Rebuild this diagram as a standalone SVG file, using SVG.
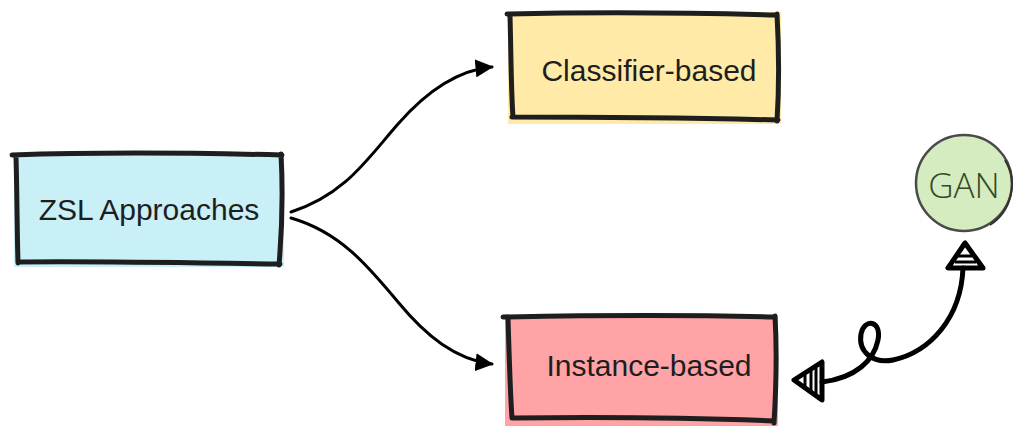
<svg xmlns="http://www.w3.org/2000/svg" width="1013" height="429" viewBox="0 0 1013 429">
<defs>
<style>
.box{stroke:none}
.edge{fill:none;stroke:#1e1e1e;stroke-width:5;stroke-linecap:round;stroke-linejoin:round}
.lbl{font-family:"Liberation Sans",Arial,sans-serif;font-size:30px;fill:#1e1e1e;text-anchor:middle;dominant-baseline:central}
.conn{fill:none;stroke:#000;stroke-width:3;stroke-linecap:round}
.thick{fill:none;stroke:#000;stroke-width:5;stroke-linecap:round;stroke-linejoin:round}
</style>
<marker id="ah" viewBox="0 0 12 12" refX="11" refY="6" markerWidth="6" markerHeight="6" orient="auto" markerUnits="strokeWidth">
<path d="M0,0 L12,6 L0,12 Z" fill="#000"/>
</marker>
</defs>
<rect width="1013" height="429" fill="#fff"/>

<g id="connectors">
<path class="conn" d="M291,212 C345,195 368,158 398,124 C426,92 458,70 492,67" marker-end="url(#ah)"/>
<path class="conn" d="M291,218 C340,232 368,266 398,302 C426,336 456,360 492,364" marker-end="url(#ah)"/>
<path class="thick" d="M963,268 C961,318 930,352 893,360 C873,364 858,352 861,334 C864,318 882,320 878,340 C874,360 856,378 822,382"/>
<polygon class="thick" points="965,243 948,268 983,268" fill="#fff"/>
<path d="M958,256 L972,256 M955,262 L976,262" stroke="#000" stroke-width="3"/>
<polygon class="thick" points="794,380 822,362 822,400" fill="#fff"/>
<path d="M805,375 L805,389 M811,371 L811,393 M816,368 L816,396" stroke="#000" stroke-width="3"/>
</g>

<g id="zsl">
<rect class="box" x="14" y="153" width="270" height="114" fill="#c9eff7"/>
<path class="edge" d="M12,155 C100,152 200,153 282,155 M281,154 C283,190 282,230 279,265 M280,264 C200,263 100,261 18,262 M16,157 C17,190 17,230 18,263"/>
<text class="lbl" x="149" y="209">ZSL Approaches</text>
</g>

<g id="classifier">
<rect class="box" x="508" y="12" width="273" height="112" fill="#ffeaa7"/>
<path class="edge" d="M507,14 C600,12 700,13 777,15 M777,14 C779,50 779,90 777,121 M778,120 C700,118 600,117 512,117 M510,16 C511,50 511,90 513,117"/>
<text class="lbl" x="649" y="70">Classifier-based</text>
</g>

<g id="instance">
<rect class="box" x="505" y="316" width="273" height="110" fill="#ffa3a6"/>
<path class="edge" d="M503,317 C600,315 700,315 775,317 M775,316 C777,350 776,390 774,423 M774,421 C700,418 600,417 513,418 M508,318 C509,350 510,390 512,418"/>
<text class="lbl" x="649" y="365">Instance-based</text>
</g>

<g id="gan">
<circle cx="964" cy="183" r="48" fill="#d5ebc0" stroke="#4a4a4a" stroke-width="2.5"/>
<path d="M1005,160 A48,48 0 0 1 990,225" fill="none" stroke="#333" stroke-width="2"/>
<text x="964" y="184" font-family="'Open Sans','Liberation Sans',sans-serif" font-size="35" font-weight="300" fill="#2f4a25" text-anchor="middle" dominant-baseline="central">GAN</text>
</g>
</svg>
